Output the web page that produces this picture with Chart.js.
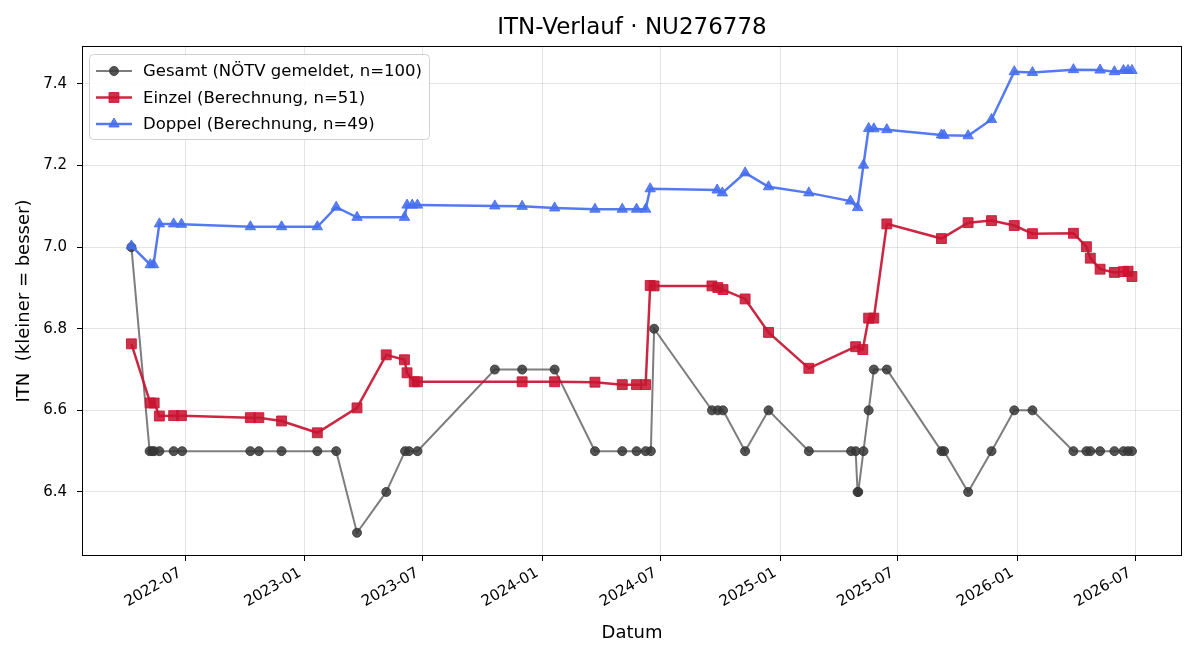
<!DOCTYPE html>
<html lang="de">
<head>
<meta charset="UTF-8" />
<title>ITN-Verlauf</title>
<script src="https://cdn.jsdelivr.net/npm/chart.js@4"></script>
<style>
  body { margin: 0; background: #fff; }
  canvas { display: block; }
</style>
</head>
<body>
<canvas id="itnChart" width="1200" height="660"></canvas>
<script>
// --- data ---
const gesamtDates = [
  "2022-04-09", "2022-05-07", "2022-05-11", "2022-05-14", "2022-05-22", "2022-06-13", "2022-06-26",
  "2022-10-09", "2022-10-22", "2022-11-26", "2023-01-20", "2023-02-18", "2023-03-22", "2023-05-06",
  "2023-06-04", "2023-06-10", "2023-06-23", "2023-10-20", "2023-12-01", "2024-01-20", "2024-03-22",
  "2024-05-03", "2024-05-25", "2024-06-08", "2024-06-16", "2024-06-21", "2024-09-18", "2024-09-27",
  "2024-10-05", "2024-11-08", "2024-12-14", "2025-02-14", "2025-04-20", "2025-04-27", "2025-04-30",
  "2025-05-01", "2025-05-09", "2025-05-17", "2025-05-25", "2025-06-14", "2025-09-06", "2025-09-10",
  "2025-10-17", "2025-11-22", "2025-12-27", "2026-01-24", "2026-03-28", "2026-04-17", "2026-04-23",
  "2026-05-08", "2026-05-30", "2026-06-13", "2026-06-20", "2026-06-26"
];
const gesamtValues = [
  7.0, 6.5, 6.5, 6.5, 6.5, 6.5, 6.5,
  6.5, 6.5, 6.5, 6.5, 6.5, 6.3, 6.4,
  6.5, 6.5, 6.5, 6.7, 6.7, 6.7, 6.5,
  6.5, 6.5, 6.5, 6.5, 6.8, 6.6, 6.6,
  6.6, 6.5, 6.6, 6.5, 6.5, 6.5, 6.4,
  6.4, 6.5, 6.6, 6.7, 6.7, 6.5, 6.5,
  6.4, 6.5, 6.6, 6.6, 6.5, 6.5, 6.5,
  6.5, 6.5, 6.5, 6.5, 6.5
];

const einzelDates = [
  "2022-04-09", "2022-05-08", "2022-05-14", "2022-05-22", "2022-06-13", "2022-06-25", "2022-10-09",
  "2022-10-22", "2022-11-26", "2023-01-20", "2023-03-22", "2023-05-06", "2023-06-03", "2023-06-07",
  "2023-06-18", "2023-06-23", "2023-12-01", "2024-01-20", "2024-03-22", "2024-05-03", "2024-05-25",
  "2024-06-08", "2024-06-15", "2024-06-21", "2024-09-18", "2024-09-27", "2024-10-05", "2024-11-08",
  "2024-12-14", "2025-02-14", "2025-04-27", "2025-05-08", "2025-05-17", "2025-05-25", "2025-06-14",
  "2025-09-06", "2025-10-17", "2025-11-22", "2025-12-27", "2026-01-24", "2026-03-28", "2026-04-17",
  "2026-04-23", "2026-05-08", "2026-05-30", "2026-06-13", "2026-06-20", "2026-06-26"
];
const einzelValues = [
  6.763, 6.618, 6.618, 6.586, 6.587, 6.587, 6.582,
  6.582, 6.574, 6.545, 6.606, 6.736, 6.724, 6.692,
  6.670, 6.670, 6.670, 6.670, 6.669, 6.663, 6.663,
  6.663, 6.906, 6.905, 6.905, 6.901, 6.896, 6.873,
  6.791, 6.703, 6.756, 6.749, 6.826, 6.826, 7.057,
  7.021, 7.060, 7.065, 7.053, 7.033, 7.034, 7.001,
  6.973, 6.946, 6.938, 6.940, 6.941, 6.928
];

const doppelDates = [
  "2022-04-09", "2022-05-08", "2022-05-13", "2022-05-22", "2022-06-13", "2022-06-25", "2022-10-09",
  "2022-11-26", "2023-01-20", "2023-02-18", "2023-03-22", "2023-06-03", "2023-06-07", "2023-06-15",
  "2023-06-23", "2023-10-20", "2023-12-01", "2024-01-20", "2024-03-22", "2024-05-03", "2024-05-25",
  "2024-06-08", "2024-06-15", "2024-09-26", "2024-10-04", "2024-11-08", "2024-12-14", "2025-02-14",
  "2025-04-19", "2025-04-30", "2025-05-09", "2025-05-17", "2025-05-25", "2025-06-14", "2025-09-06",
  "2025-09-10", "2025-10-17", "2025-11-22", "2025-12-27", "2026-01-24", "2026-03-28", "2026-05-08",
  "2026-05-30", "2026-06-13", "2026-06-20", "2026-06-26"
];
const doppelValues = [
  7.003, 6.957, 6.957, 7.057, 7.057, 7.056, 7.050,
  7.050, 7.050, 7.098, 7.073, 7.073, 7.103, 7.103,
  7.103, 7.101, 7.100, 7.096, 7.093, 7.093, 7.093,
  7.093, 7.143, 7.140, 7.133, 7.182, 7.148, 7.133,
  7.113, 7.097, 7.201, 7.291, 7.290, 7.288, 7.275,
  7.274, 7.273, 7.313, 7.430, 7.428, 7.435, 7.434,
  7.430, 7.433, 7.433, 7.433
];

const seriesLabels = [
  "Gesamt (NÖTV gemeldet, n=100)",
  "Einzel (Berechnung, n=51)",
  "Doppel (Berechnung, n=49)"
];
const xTickLabels = ["2022-07", "2023-01", "2023-07", "2024-01", "2024-07", "2025-01", "2025-07", "2026-01", "2026-07"];
const yTickValues = [6.4, 6.6, 6.8, 7.0, 7.2, 7.4];

const FONT = "'DejaVu Sans', sans-serif";

function toPoints(dates, values) {
  return dates.map((d, i) => ({ x: Date.parse(d), y: values[i] }));
}

function fmtMonth(ts) {
  const d = new Date(ts);
  const m = String(d.getUTCMonth() + 1).padStart(2, "0");
  return d.getUTCFullYear() + "-" + m;
}

// title, frame and the legend inside the plot (matplotlib style)
const decorations = {
  id: "decorations",
  afterDraw(chart) {
    const ctx = chart.ctx;
    const a = chart.chartArea;
    ctx.save();

    ctx.strokeStyle = "#000";
    ctx.lineWidth = 1;
    ctx.strokeRect(a.left + 0.5, a.top + 0.5, a.right - a.left - 1, a.bottom - a.top - 1);

    ctx.fillStyle = "#000";
    ctx.font = "23px " + FONT;
    ctx.textAlign = "center";
    ctx.textBaseline = "middle";
    ctx.fillText("ITN-Verlauf · NU276778", (a.left + a.right) / 2, 28);

    // legend box
    const bx = 89.5, by = 54.5, bw = 340, bh = 85;
    ctx.beginPath();
    ctx.roundRect(bx, by, bw, bh, 4);
    ctx.fillStyle = "rgba(255,255,255,0.85)";
    ctx.fill();
    ctx.strokeStyle = "#d0d0d0";
    ctx.lineWidth = 1;
    ctx.stroke();

    ctx.font = "16.5px " + FONT;
    ctx.textAlign = "left";
    chart.data.datasets.forEach((ds, i) => {
      const y = 71 + i * 26.5;
      ctx.beginPath();
      ctx.moveTo(96, y);
      ctx.lineTo(132, y);
      ctx.strokeStyle = ds.borderColor;
      ctx.lineWidth = ds.borderWidth;
      ctx.stroke();
      ctx.fillStyle = ds.pointBackgroundColor;
      ctx.strokeStyle = ds.pointBorderColor;
      ctx.lineWidth = 1;
      Chart.helpers.drawPoint(ctx, { pointStyle: ds.pointStyle, radius: ds.pointRadius, borderWidth: 1, rotation: 0 }, 114, y);
      ctx.fillStyle = "#000";
      ctx.fillText(seriesLabels[i], 143, y + 1);
    });
    ctx.restore();
  }
};

const ctx = document.getElementById("itnChart").getContext("2d");
const myChart = new Chart(ctx, {
  type: "line",
  data: {
    datasets: [
      {
        label: seriesLabels[0],
        data: toPoints(gesamtDates, gesamtValues),
        borderColor: "rgba(70,70,70,0.7)",
        borderWidth: 2,
        pointStyle: "circle",
        pointRadius: 4.5,
        pointBackgroundColor: "rgba(55,55,55,0.85)",
        pointBorderColor: "rgba(55,55,55,0.85)",
        pointBorderWidth: 1,
        order: 3,
      },
      {
        label: seriesLabels[1],
        data: toPoints(einzelDates, einzelValues),
        borderColor: "rgba(200,20,50,0.92)",
        borderWidth: 2.5,
        pointStyle: "rect",
        pointRadius: 7,
        pointBackgroundColor: "rgba(200,20,50,0.88)",
        pointBorderColor: "rgba(200,20,50,0.88)",
        pointBorderWidth: 1,
        order: 2,
      },
      {
        label: seriesLabels[2],
        data: toPoints(doppelDates, doppelValues),
        borderColor: "rgba(70,110,240,0.92)",
        borderWidth: 2.5,
        pointStyle: "triangle",
        pointRadius: 6,
        pointBackgroundColor: "rgba(70,110,240,0.88)",
        pointBorderColor: "rgba(70,110,240,0.88)",
        pointBorderWidth: 1,
        order: 1,
      },
    ],
  },
  options: {
    responsive: false,
    animation: false,
    layout: { padding: { top: 46, right: 18, left: 0, bottom: 0 } },
    elements: { line: { tension: 0 } },
    plugins: {
      legend: { display: false },
      title: { display: false },
      tooltip: { enabled: false },
    },
    scales: {
      x: {
        type: "linear",
        min: Date.parse("2022-01-23"),
        max: Date.parse("2026-09-11"),
        afterBuildTicks: (scale) => {
          scale.ticks = xTickLabels.map((t) => ({ value: Date.parse(t + "-01") }));
        },
        afterFit: (scale) => { scale.height = 104; },
        ticks: {
          callback: (v) => fmtMonth(v),
          autoSkip: false,
          minRotation: 30,
          maxRotation: 30,
          padding: 3,
          labelOffset: -5,
          color: "#000",
          font: { family: FONT, size: 15 },
        },
        grid: { color: "rgba(0,0,0,0.1)", tickColor: "#000", tickLength: 5, drawTicks: true },
        border: { display: false },
        title: {
          display: true,
          text: "Datum",
          color: "#000",
          font: { family: FONT, size: 18 },
          padding: { top: 0, bottom: 16 },
        },
      },
      y: {
        min: 6.243,
        max: 7.493,
        afterBuildTicks: (scale) => {
          scale.ticks = yTickValues.map((v) => ({ value: v }));
        },
        afterFit: (scale) => { scale.width = 82; },
        ticks: {
          callback: (v) => v.toFixed(1),
          padding: 10,
          color: "#000",
          font: { family: FONT, size: 15 },
        },
        grid: { color: "rgba(0,0,0,0.1)", tickColor: "#000", tickLength: 5, drawTicks: true },
        border: { display: false },
        title: {
          display: true,
          text: "ITN  (kleiner = besser)",
          color: "#000",
          font: { family: FONT, size: 18 },
          padding: { top: 14, bottom: 0 },
        },
      },
    },
  },
  plugins: [decorations],
});
</script>
</body>
</html>
